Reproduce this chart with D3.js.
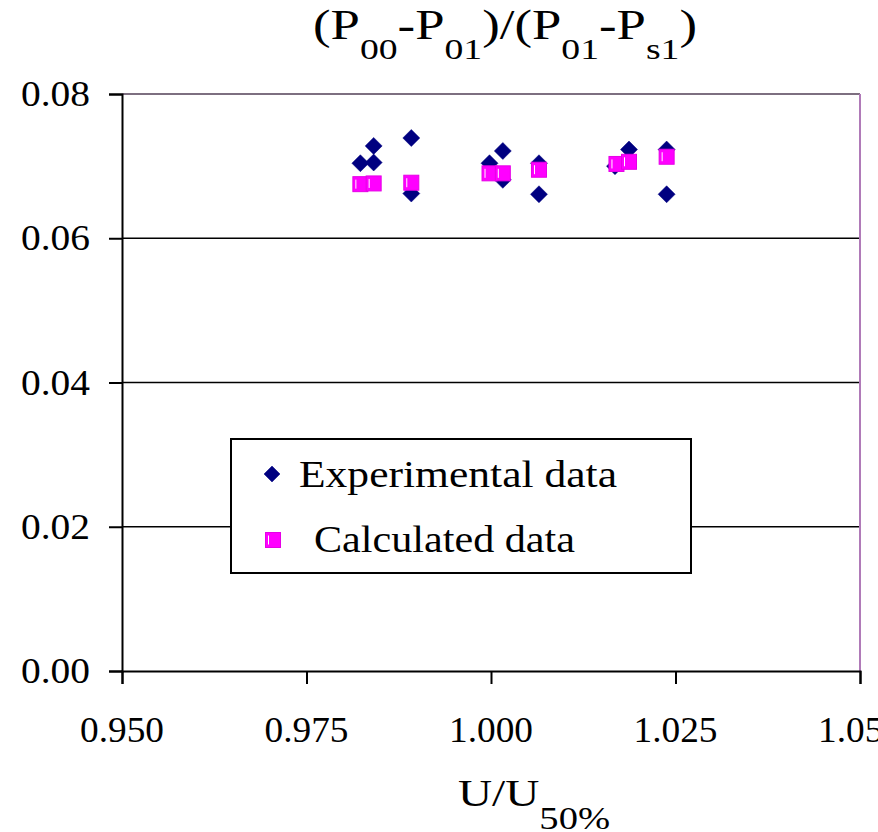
<!DOCTYPE html>
<html>
<head>
<meta charset="utf-8">
<script src="https://cdn.jsdelivr.net/npm/d3@7"></script>
<style>
  html, body { margin: 0; padding: 0; background: #fff; }
  svg { display: block; }
  text { font-family: "Liberation Serif", "Times New Roman", serif; fill: #000; }
</style>
</head>
<body>
<div id="chart"></div>
<script>
// ---- data ----
const expX = [0.9823, 0.9841, 0.9841, 0.9892, 0.9892, 0.9998, 1.0016, 1.0016, 1.0065, 1.0065, 1.0168, 1.0187, 1.0238, 1.0238];
const expY = [0.0704, 0.0728, 0.0705, 0.0739, 0.0662, 0.0704, 0.0721, 0.0681, 0.0704, 0.0661, 0.0700, 0.0723, 0.0723, 0.0661];
const calcX = [0.9823, 0.9841, 0.9892, 0.9998, 1.0016, 1.0065, 1.0170, 1.0187, 1.0238];
const calcY = [0.0675, 0.0676, 0.0677, 0.0690, 0.0690, 0.0695, 0.0703, 0.0706, 0.0713];
const xTicks = [0.950, 0.975, 1.000, 1.025, 1.050];
const yTicks = [0.00, 0.02, 0.04, 0.06, 0.08];
const seriesNames = ["Experimental data", "Calculated data"];

// ---- layout ----
const W = 878, H = 832;
const L = 122, R = 860, T = 94, B = 671;

const svg = d3.select("#chart").append("svg").attr("width", W).attr("height", H);

const x = d3.scaleLinear().domain([0.95, 1.05]).range([L, R]);
const y = d3.scaleLinear().domain([0, 0.08]).range([B, T]);

function fitText(parent, px, py, anchor, size, width) {
  return parent.append("text").attr("x", px).attr("y", py)
    .attr("text-anchor", anchor).attr("font-size", size)
    .attr("textLength", width).attr("lengthAdjust", "spacingAndGlyphs");
}

// gridlines
svg.append("g").selectAll("line").data(yTicks.filter(v => v > 0 && v < 0.08)).join("line")
  .attr("x1", L).attr("x2", R).attr("y1", d => y(d)).attr("y2", d => y(d))
  .attr("stroke", "#000").attr("stroke-width", 1.5);

// plot border top and right
svg.append("line").attr("x1", L).attr("x2", R).attr("y1", y(0.08)).attr("y2", y(0.08))
  .attr("stroke", "#7d6f80").attr("stroke-width", 2);
svg.append("line").attr("x1", R).attr("x2", R).attr("y1", y(0.08)).attr("y2", y(0))
  .attr("stroke", "#b07ab8").attr("stroke-width", 2);

// axes
const xAxis = d3.axisBottom(x).tickValues(xTicks).tickSize(13).tickFormat("");
const yAxis = d3.axisLeft(y).tickValues(yTicks).tickSize(13).tickFormat("");
const gx = svg.append("g").attr("transform", `translate(0,${B})`).call(xAxis);
const gy = svg.append("g").attr("transform", `translate(${L},0)`).call(yAxis);
[gx, gy].forEach(g => {
  g.select(".domain").attr("stroke", "#000").attr("stroke-width", 2);
  g.selectAll(".tick line").attr("stroke", "#000").attr("stroke-width", 2);
});

// tick labels
xTicks.forEach(v => {
  fitText(svg, x(v), 742, "middle", 35, 84).text(d3.format(".3f")(v));
});
yTicks.forEach(v => {
  fitText(svg, 90, y(v) + 12, "end", 35, 69).text(d3.format(".2f")(v));
});

// title
{
  const t = fitText(svg, 313, 39, "start", 42, 384);
  const parts = [["(P", 0], ["00", 1], ["-P", 0], ["01", 1], [")/(P", 0], ["01", 1], ["-P", 0], ["s1", 1], [")", 0]];
  let cur = 0;
  parts.forEach(([s, sub]) => {
    const target = sub ? 20 : 0;
    t.append("tspan").attr("dy", target - cur).attr("font-size", sub ? 30 : 42).text(s);
    cur = target;
  });
}

// x axis title
{
  const t = fitText(svg, 458, 806, "start", 38, 152);
  t.append("tspan").text("U/U");
  t.append("tspan").attr("dy", 23).attr("font-size", 31).text("50%");
}

// markers
function diamond(sel, cx, cy, r) {
  sel.append("path")
    .attr("d", `M${cx},${cy - r}L${cx + r},${cy}L${cx},${cy + r}L${cx - r},${cy}Z`)
    .attr("fill", "#000080").attr("stroke", "#000080").attr("stroke-width", 0.5);
}
function square(sel, cx, cy, s) {
  sel.append("rect").attr("x", cx - s / 2).attr("y", cy - s / 2).attr("width", s).attr("height", s)
    .attr("fill", "#ff00ff").attr("stroke", "#e600e6").attr("stroke-width", 1);
  sel.append("line").attr("x1", cx - s / 2 + 3).attr("x2", cx - s / 2 + 3)
    .attr("y1", cy - s / 2 + 3).attr("y2", cy + s / 2 - 3)
    .attr("stroke", "#fff").attr("stroke-width", 1);
}

const gExp = svg.append("g");
expX.forEach((v, i) => diamond(gExp, x(v), y(expY[i]), 8.5));
const gCalc = svg.append("g");
calcX.forEach((v, i) => square(gCalc, x(v), y(calcY[i]), 15));

// legend
const lg = svg.append("g");
lg.append("rect").attr("x", 231).attr("y", 439).attr("width", 460).attr("height", 134)
  .attr("fill", "#fff").attr("stroke", "#000").attr("stroke-width", 2);
diamond(lg, 272, 474, 8);
fitText(lg, 299, 487, "start", 38, 318).text(seriesNames[0]);
square(lg, 273, 540, 15);
fitText(lg, 314, 552, "start", 38, 261).text(seriesNames[1]);
</script>
</body>
</html>
